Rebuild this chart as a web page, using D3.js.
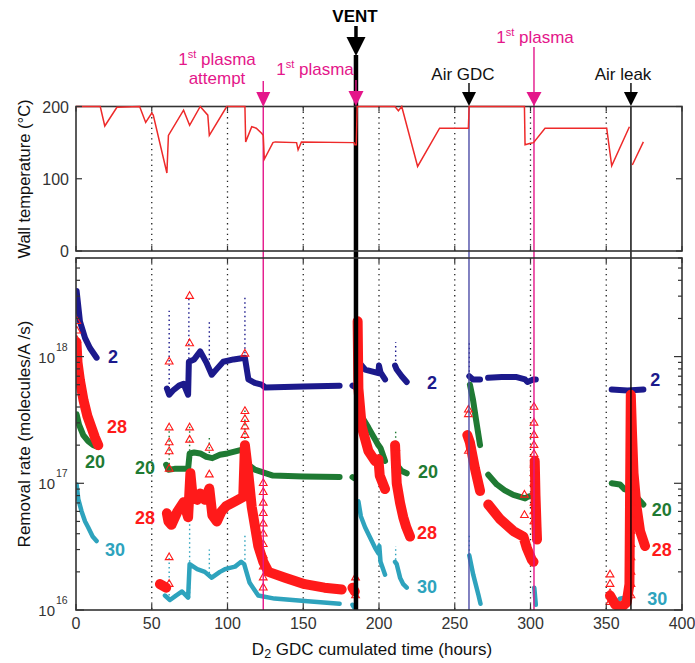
<!DOCTYPE html>
<html>
<head>
<meta charset="utf-8">
<script src="https://cdn.jsdelivr.net/npm/d3@7"></script>
<style>
  body { margin: 0; background: #fff; }
  text { font-family: "Liberation Sans", Arial, Helvetica, sans-serif; }
</style>
</head>
<body>
<svg id="chart" width="695" height="663"></svg>
<script>
// ---- data: [hours, value], null = gap ----
var xTicks = [0, 50, 100, 150, 200, 250, 300, 350, 400];
var tempTicks = [0, 100, 200];
var rateTicks = [1e16, 1e17, 1e18];

var wallTemp = [[0,200],[16,200],[19,173],[27,199],[42,200],[46,178],[50,191],[51,188],[60,108],[61,160],
  [71,195],[75,174],[82,200],[87,188],[88,160],[99.5,200],[111.5,200],[112,151],[116,172],[119,170],
  [122.5,163],[123.6,160],[124.3,127],[130,150],[131.5,151],[145.6,150],[146.6,140],[148.8,151],
  [183.5,150],[184,147],[185,147],[185.6,200],[210.5,200],[212.8,194],[215,200],[225.5,117],[240,170],
  [259,170],[259.5,200],[296,200],[296.4,147],[300,149],[302,150],[309.6,170],[350.3,170],[353.6,118],
  [365.3,172], null, [367.2,119],[374.5,151]];

var mass2 = [[0.4,3.3e18],[2.6,1.9e18],[6,1.4e18],[9.2,1.17e18],[13.6,9.8e17], null,
  [60,5.6e17],[61.5,5.0e17],[64,5.4e17],[68,5.9e17],[71,6.1e17],[74,5.0e17],[74.5,9.1e17],[78,9.5e17],
  [82,1.1e18],[86,9.0e17],[89.6,7.2e17],[93,8.0e17],[97.2,9.1e17],[104,9.5e17],[111.5,9.8e17],
  [113.8,6.6e17],[118,6.2e17],[122.5,6.0e17],[125,5.7e17],[150,5.8e17],[174,5.9e17], null,
  [182.5,5.9e17],[183.5,5.8e17], null,
  [186.4,9.1e17],[190.8,7.9e17],[199.6,7.4e17],[200,8.5e17],[201,7.5e17],[204,6.6e17], null,
  [210.6,8.5e17],[211.7,7.9e17],[215,7.0e17],[218.3,6.3e17], null,
  [259.6,7.0e17],[262,6.6e17],[266.7,6.6e17], null,
  [272,6.8e17],[281,6.9e17],[290.9,6.9e17],[296.4,6.6e17],[298,6.3e17],[301.8,6.6e17],[303.5,6.6e17], null,
  [353.6,5.5e17],[364,5.4e17],[374.5,5.5e17]];

var mass20 = [[0.4,3.5e17],[2,2.9e17],[4.8,2.4e17],[8,2.15e17],[11.4,2.0e17],[14,1.95e17], null,
  [59.5,1.4e17],[61,1.28e17],[65,1.3e17],[70,1.3e17],[74,1.3e17],[75,1.72e17],[78,1.75e17],[82,1.72e17],
  [86,1.62e17],[90,1.58e17],[95,1.68e17],[100,1.72e17],[110.4,1.85e17],[113.8,1.4e17],[118,1.28e17],
  [122.5,1.23e17],[130,1.15e17],[150,1.13e17],[174,1.12e17], null,
  [182.5,1.12e17],[183.5,1.1e17], null,
  [186.5,3.7e17],[193,2.75e17],[199.6,2.0e17],[201,1.9e17],[204,1.5e17], null,
  [210.6,1.6e17],[211.7,1.4e17],[215,1.25e17],[218.3,1.2e17], null,
  [260,6.0e17],[262,4.6e17],[264,3.2e17],[266.7,2.0e17], null,
  [272.1,1.17e17],[277.7,9.8e16],[283,8.8e16],[288.7,8.1e16],[296.4,7.6e16],[298,7.8e16],[301,8.0e16], null,
  [353.6,1.0e17],[359,9.8e16],[362,9.0e16],[365.7,8.7e16],[370,7.8e16],[374.5,6.8e16]];

var mass28 = [[0.3,1.3e18],[1,9.0e17],[2.6,6.5e17],[5,4.5e17],[7.5,3.4e17],[10,2.8e17],[12.5,2.3e17],[14.7,2.0e17], null,
  [55.4,1.6e16],[59.5,1.5e16], null,
  [60,5.8e16],[61,5.0e16],[63,4.7e16],[67,6.0e16],[71,7.1e16],[74,5.4e16],[75.5,1.2e17],[77,7.8e16],
  [80,7.4e16],[82,8.3e16],[85,7.4e16],[88,9.1e16],[90,5.6e16],[93,5.0e16],[96,6.0e16],[99,6.6e16],
  [105,7.2e16],[110.4,7.8e16],[111.5,2.0e17],[113.8,1.17e17],[116,6.5e16],[120.3,3.2e16],[123.6,2.4e16],
  [127,2.0e16],[138,1.8e16],[151,1.6e16],[164,1.5e16],[175.4,1.45e16], null,
  [182.5,1.5e16],[184,1.4e16], null,
  [185.9,1.9e18],[186.4,5.6e17],[188.6,2.8e17],[193,1.8e17],[197.4,1.5e17],[199.6,1.55e17],[200.5,1.15e17],
  [201.8,1.05e17],[204,9.0e16], null,
  [210.6,2.0e17],[211.7,1.0e17],[213.9,7.0e16],[216,5.4e16],[218,4.5e16],[220.5,3.8e16], null,
  [258.3,2.4e17],[260,2.1e17],[263.4,1.3e17],[266.7,8.7e16], null,
  [272.1,6.8e16],[280,5.2e16],[288.7,4.2e16],[295.3,3.8e16],[297.5,3.1e16],[300.8,2.5e16],[302,2.4e16], null,
  [302.8,1.5e17],[303.3,8.0e16],[304,4.5e16],[304.3,3.6e16], null,
  [352.5,1.3e16],[356,1.1e16],[360,1.05e16],[363.5,1.15e16],[365.3,1.6e16],[366.2,5.0e17],[367,2.5e17],
  [368,1.2e17],[370,6.5e16],[372.3,4.2e16],[375.6,3.2e16]];

var mass30 = [[0.4,9.8e16],[1.5,7.5e16],[3.7,6.0e16],[6,5.0e16],[8,4.5e16],[11,3.8e16],[13.6,3.5e16], null,
  [58.7,1.3e16],[62,1.2e16],[66,1.3e16],[70,1.4e16],[74,1.25e16],[75,2.3e16],[80,2.1e16],[85,2.0e16],
  [89.6,1.8e16],[95,2.0e16],[98.3,2.1e16],[105,2.2e16],[109,2.4e16],[111,2.3e16],[114.5,1.65e16],
  [120.3,1.3e16],[131,1.23e16],[153,1.17e16],[174,1.12e16], null,
  [182.5,1.1e16],[183.5,1.05e16], null,
  [186.4,7.2e16],[188,5.5e16],[190.8,4.5e16],[197.4,3.1e16],[199.6,2.8e16],[200.2,3.2e16],[201,2.4e16],[204,1.9e16], null,
  [210.6,2.4e16],[211.7,2.3e16],[213.9,1.8e16],[216,1.6e16],[218.3,1.5e16], null,
  [259.6,2.7e16],[262.2,1.9e16],[265.6,1.32e16],[267,1.12e16], null,
  [302.5,1.5e16],[303.5,1.1e16], null,
  [353.6,1.17e16],[356,1.1e16],[359,1.23e16],[362,1.25e16],[365.7,1.23e16]];

// sparse vertical spikes: [hours, low, high]
var spikes2 = [[61.5,5.6e17,2.3e18],[74.5,5.0e17,3.0e18],[88,8.0e17,1.9e18],[111.5,9.8e17,3.0e18],
  [200,7.4e17,9.0e17],[211,8.5e17,1.3e18],[259.6,7.0e17,1.3e18]];
var spikes20 = [[61.5,1.3e17,2.75e17],[75,1.3e17,2.9e17],[88,1.6e17,2.3e17],[111.5,1.9e17,4.0e17],[211,1.4e17,2.6e17]];
var spikes30 = [[61.5,1.2e16,2.6e16],[75,1.25e16,5.6e16],[88,1.8e16,3.0e16],[111.5,2.3e16,3.9e16],
  [200,2.8e16,3.5e16],[211,2.3e16,3.2e16],[259.6,2.7e16,4.0e16]];

// open triangles of mass 28 at the spikes: [hours, value]
var tri28 = [[0.5,1.9e18],[0.5,1.6e18],[0.5,1.35e18],[0.5,1.15e18],[0.5,1.0e18],[0.5,8.7e17],
  [61.5,9.1e17],[61.5,2.75e17],[61.5,2.1e17],[61.5,1.78e17],[61.5,1.3e17],[61.5,2.6e16],[61.5,1.6e16],
  [75,3.0e18],[75,1.27e18],[75,2.75e17],[75,2.2e17],
  [88,1.9e17],[88,1.17e17],
  [111.5,1.05e18],[111.5,3.7e17],[111.5,3.2e17],[111.5,2.8e17],[111.5,2.4e17],
  [123.6,1.0e17],[123.6,8.5e16],[123.6,7.0e16],[123.6,5.8e16],[123.6,4.8e16],[123.6,4.0e16],[123.6,3.3e16],
  [123.6,2.7e16],[123.6,2.2e16],[123.6,1.8e16],[123.6,1.5e16],
  [184.5,1.8e16],[184.5,1.3e16],
  [211,1.9e17],[211,1.6e17],
  [259,3.8e17],[259,3.5e17],[259,1.8e17],
  [296,8.1e16],[296,5.6e16],
  [302.3,4.0e17],[302.3,3.0e17],[302.3,2.4e17],[302.3,2.0e17],[302.3,1.7e17],[302.3,1.4e17],[302.3,1.2e17],
  [302.3,1.0e17],[302.3,8.5e16],[302.3,7.0e16],[302.3,6.0e16],[302.3,5.0e16],
  [352.5,1.9e16],[352.5,1.6e16],[352.5,1.35e16],[352.5,1.15e16],
  [366.3,4.0e17],[366.3,3.2e17],[366.3,2.6e17],[366.3,2.1e17],[366.3,1.7e17],[366.3,1.4e17],[366.3,1.1e17],
  [366.3,9.0e16],[366.3,7.0e16],[366.3,5.5e16],[366.3,4.2e16],[366.3,3.3e16],[366.3,2.6e16],[366.3,2.0e16],
  [366.3,1.6e16],[366.3,1.3e16]];

// series labels: [text, hours, value]
var labels2 = [["2",21.1,1.0e18],["2",231.7,6.3e17],["2",379,6.6e17]];
var labels20 = [["20",5.9,1.48e17],["20",38.9,1.34e17],["20",225.7,1.23e17],["20",380,6.2e16]];
var labels28 = [["28",20.5,2.8e17],["28",38.9,5.4e16],["28",225,4.1e16],["28",380,3.0e16]];
var labels30 = [["30",19.1,3.0e16],["30",225,1.52e16],["30",377,1.24e16]];

// events (hours)
var eventHours = [123.6, 184.8, 259.4, 302.3, 366.3];

// ---- drawing ----
var navy = "#1c1a8c", green = "#1f7a33", red = "#ff1a1a", teal = "#2ea3bd",
    magenta = "#e4168a", purple = "#4c4ca6";

var svg = d3.select("#chart");
var x = d3.scaleLinear().domain([0, 400]).range([76, 682]);
var yT = d3.scaleLinear().domain([0, 200]).range([251, 106.5]);
var yR = d3.scaleLog().domain([1e16, 6e18]).range([610, 258]);

var topY0 = 106.5, topY1 = 251, botY0 = 258, botY1 = 610;

svg.append("clipPath").attr("id", "clipTop").append("rect")
  .attr("x", x(0)).attr("y", topY0 - 2).attr("width", x(400) - x(0)).attr("height", topY1 - topY0 + 2);
svg.append("clipPath").attr("id", "clipBot").append("rect")
  .attr("x", x(0)).attr("y", botY0).attr("width", x(400) - x(0)).attr("height", botY1 - botY0);

// dotted grid every 50 h
[[topY0, topY1], [botY0, botY1]].forEach(function (p) {
  svg.append("g").selectAll("line").data(xTicks.slice(1, -1)).join("line")
    .attr("x1", function (d) { return x(d); }).attr("x2", function (d) { return x(d); })
    .attr("y1", p[0]).attr("y2", p[1])
    .attr("stroke", "#222").attr("stroke-width", 1.3).attr("stroke-dasharray", "1.3,4");
});

// removal rates
var lineR = d3.line().defined(function (d) { return d !== null; })
  .x(function (d) { return x(d[0]); }).y(function (d) { return yR(d[1]); });
var gData = svg.append("g").attr("clip-path", "url(#clipBot)");

function spikes(arr, color) {
  gData.append("g").selectAll("line").data(arr).join("line")
    .attr("x1", function (d) { return x(d[0]); }).attr("x2", function (d) { return x(d[0]); })
    .attr("y1", function (d) { return yR(d[1]); }).attr("y2", function (d) { return yR(d[2]); })
    .attr("stroke", color).attr("stroke-width", 1.4).attr("stroke-dasharray", "1.5,3");
}
function band(arr, color, w) {
  gData.append("path").datum(arr).attr("d", lineR).attr("fill", "none")
    .attr("stroke", color).attr("stroke-width", w)
    .attr("stroke-linejoin", "round").attr("stroke-linecap", "round");
}
spikes(spikes2, navy); spikes(spikes20, green); spikes(spikes30, teal);
band(mass2, navy, 6);
band(mass30, teal, 4.5);
band(mass20, green, 6);
band(mass28, red, 10);

gData.append("g").selectAll("path").data(tri28).join("path")
  .attr("transform", function (d) { return "translate(" + x(d[0]) + "," + yR(d[1]) + ")"; })
  .attr("d", d3.symbol(d3.symbolTriangle, 26))
  .attr("fill", "none").attr("stroke", red).attr("stroke-width", 1.1);

// event lines through both panels
var evStyle = [
  { color: magenta, w: 1.4, top: topY0 },
  { color: "#000", w: 4.5, top: 55 },
  { color: purple, w: 1.4, top: topY0 },
  { color: magenta, w: 1.4, top: 47 },
  { color: "#000", w: 1.4, top: topY0 }
];
svg.append("g").selectAll("line").data(eventHours).join("line")
  .attr("x1", function (d) { return x(d); }).attr("x2", function (d) { return x(d); })
  .attr("y1", function (d, i) { return evStyle[i].top; }).attr("y2", botY1)
  .attr("stroke", function (d, i) { return evStyle[i].color; })
  .attr("stroke-width", function (d, i) { return evStyle[i].w; });

// frames
[[topY0, topY1], [botY0, botY1]].forEach(function (p) {
  svg.append("rect").attr("x", x(0)).attr("y", p[0])
    .attr("width", x(400) - x(0)).attr("height", p[1] - p[0])
    .attr("fill", "none").attr("stroke", "#333").attr("stroke-width", 1.6);
});

// wall temperature (drawn over the frame: the 200 plateaus sit on the top border)
var lineT = d3.line().defined(function (d) { return d !== null; })
  .x(function (d) { return x(d[0]); }).y(function (d) { return yT(d[1]); });
svg.append("path").datum(wallTemp).attr("clip-path", "url(#clipTop)")
  .attr("d", lineT).attr("fill", "none").attr("stroke", "#ee2a2a").attr("stroke-width", 1.5);

// x ticks (inward) on both panels
var gTick = svg.append("g").attr("stroke", "#333").attr("stroke-width", 1.2);
xTicks.forEach(function (t) {
  [[topY0, 5], [topY1, -5], [botY0, 5], [botY1, -6]].forEach(function (p) {
    gTick.append("line").attr("x1", x(t)).attr("x2", x(t)).attr("y1", p[0]).attr("y2", p[0] + p[1]);
  });
});
// temperature y ticks
tempTicks.forEach(function (v) {
  gTick.append("line").attr("x1", x(0)).attr("x2", x(0) + 6).attr("y1", yT(v)).attr("y2", yT(v));
  gTick.append("line").attr("x1", x(400)).attr("x2", x(400) - 6).attr("y1", yT(v)).attr("y2", yT(v));
});
// log ticks
yR.ticks().forEach(function (v) {
  var major = rateTicks.indexOf(v) >= 0;
  var len = major ? 8 : 4;
  gTick.append("line").attr("x1", x(0)).attr("x2", x(0) + len).attr("y1", yR(v)).attr("y2", yR(v));
  gTick.append("line").attr("x1", x(400)).attr("x2", x(400) - len).attr("y1", yR(v)).attr("y2", yR(v));
});

// tick labels
svg.append("g").selectAll("text").data(xTicks).join("text")
  .attr("x", function (d) { return x(d); }).attr("y", 629)
  .attr("text-anchor", "middle").attr("font-size", 16).attr("fill", "#333")
  .text(function (d) { return d; });
svg.append("g").selectAll("text").data(tempTicks).join("text")
  .attr("x", 69).attr("y", function (d) { return yT(d) + 6; })
  .attr("text-anchor", "end").attr("font-size", 16).attr("fill", "#333")
  .text(function (d) { return d; });
var gLog = svg.append("g").attr("fill", "#333");
rateTicks.forEach(function (v) {
  gLog.append("text").attr("x", 55).attr("y", yR(v) + 6).attr("text-anchor", "end")
    .attr("font-size", 15).text("10");
  gLog.append("text").attr("x", 56).attr("y", yR(v) - 6).attr("font-size", 10.5)
    .text(Math.round(Math.log10(v)));
});

// axis titles
svg.append("text").attr("transform", "translate(30,179) rotate(-90)")
  .attr("text-anchor", "middle").attr("font-size", 16.5).attr("fill", "#111")
  .text("Wall temperature (\u00B0C)");
svg.append("text").attr("transform", "translate(30,434) rotate(-90)")
  .attr("text-anchor", "middle").attr("font-size", 17).attr("fill", "#111")
  .text("Removal rate (molecules/A /s)");
var xt = svg.append("text").attr("x", 372).attr("y", 655).attr("text-anchor", "middle")
  .attr("font-size", 17).attr("fill", "#111");
xt.append("tspan").text("D");
xt.append("tspan").attr("font-size", 12.5).attr("dy", 2.5).text("2");
xt.append("tspan").attr("dy", -2.5).text(" GDC cumulated time (hours)");

// series labels
[[labels2, navy], [labels20, green], [labels28, red], [labels30, teal]].forEach(function (p) {
  svg.append("g").selectAll("text").data(p[0]).join("text")
    .attr("x", function (d) { return x(d[1]); }).attr("y", function (d) { return yR(d[2]) + 6.5; })
    .attr("font-size", 18).attr("font-weight", "bold").attr("fill", p[1])
    .text(function (d) { return d[0]; });
});

// annotations
function arrowHead(cx, y0, y1, hw, color) {
  svg.append("path")
    .attr("d", "M" + (cx - hw) + "," + y0 + "L" + (cx + hw) + "," + y0 + "L" + cx + "," + y1 + "Z")
    .attr("fill", color);
}
function stem(cx, y0, y1, color, w) {
  svg.append("line").attr("x1", cx).attr("x2", cx).attr("y1", y0).attr("y2", y1)
    .attr("stroke", color).attr("stroke-width", w || 1.4);
}
function firstPlasma(cx, y) {
  var t = svg.append("text").attr("x", cx).attr("y", y).attr("text-anchor", "middle")
    .attr("font-size", 17).attr("fill", magenta);
  t.append("tspan").text("1");
  t.append("tspan").attr("font-size", 11).attr("dy", -7).text("st");
  t.append("tspan").attr("dy", 7).text(" plasma");
}

var ex = eventHours.map(function (d) { return x(d); });
// 1st plasma attempt
firstPlasma(217, 65);
svg.append("text").attr("x", 217).attr("y", 84).attr("text-anchor", "middle")
  .attr("font-size", 17).attr("fill", magenta).text("attempt");
stem(ex[0], 81, 93, magenta); arrowHead(ex[0], 92, 107, 7, magenta);
// 1st plasma before vent
firstPlasma(315, 75);
stem(ex[1], 80, 93, magenta); arrowHead(ex[1], 91, 106, 7.5, magenta);
// VENT
svg.append("text").attr("x", 355).attr("y", 22).attr("text-anchor", "middle")
  .attr("font-size", 17).attr("font-weight", "bold").attr("fill", "#000").text("VENT");
stem(ex[1], 26, 39, "#000", 3.5); arrowHead(ex[1], 37, 56, 9.5, "#000");
// Air GDC
svg.append("text").attr("x", 463).attr("y", 80).attr("text-anchor", "middle")
  .attr("font-size", 17).attr("fill", "#111").text("Air GDC");
stem(ex[2], 83, 93, "#000"); arrowHead(ex[2], 92, 106, 7, "#000");
// second 1st plasma
firstPlasma(535, 43);
arrowHead(ex[3], 92, 106, 7.5, magenta);
// Air leak
svg.append("text").attr("x", 623).attr("y", 80).attr("text-anchor", "middle")
  .attr("font-size", 17).attr("fill", "#111").text("Air leak");
stem(ex[4], 83, 93, "#000"); arrowHead(ex[4], 92, 106, 7, "#000");
</script>
</body>
</html>
